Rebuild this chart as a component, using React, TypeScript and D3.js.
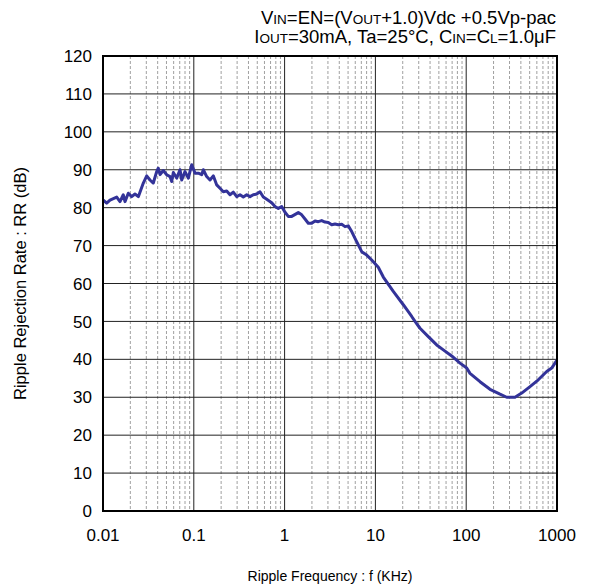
import React from "react";
import * as d3 from "d3";

const freqKHz = [
  0.01008, 0.01098, 0.01194, 0.01416, 0.01539, 0.01673, 0.01747, 0.01899, 0.0207, 0.0225,
  0.0245, 0.0278, 0.0303, 0.0329, 0.0358, 0.039, 0.0406, 0.0425, 0.0461, 0.0503,
  0.0547, 0.0571, 0.0595, 0.0648, 0.0705, 0.0736, 0.08, 0.087, 0.0948, 0.1031,
  0.1121, 0.1222, 0.1273, 0.1387, 0.1508, 0.164, 0.1788, 0.1944, 0.2113, 0.2303,
  0.2504, 0.2723, 0.2969, 0.3228, 0.351, 0.3824, 0.4158, 0.4521, 0.4928, 0.5359,
  0.5827, 0.6353, 0.721, 0.7842, 0.8524, 0.9293, 1.01, 1.098, 1.197, 1.415,
  1.543, 1.678, 1.824, 1.989, 2.162, 2.35, 2.562, 2.785, 3.029, 3.301,
  3.591, 3.904, 4.256, 4.627, 5.029, 5.483, 5.962, 6.482, 7.066, 8.021,
  9.105, 10.76, 12.22, 15.74, 20.29, 25.11, 27.3, 30.99, 38.24, 47.33,
  55.96, 69.24, 85.45, 101.3, 110.1, 141.9, 182.9, 235.6, 279.3, 344.7,
  408.6, 504.3, 622.3, 770.1, 874.2, 1000,
];
const rrDB = [
  82, 81.2, 82, 82.8, 81.6, 83.4, 81.6, 83.8, 82.9, 83.6,
  82.9, 86.5, 88.4, 87.3, 86.5, 89.5, 90.4, 88.7, 89.8, 88.7,
  88.2, 86.9, 89.3, 87.8, 90, 87.3, 89.5, 87.8, 91.3, 89.1,
  89.1, 88.7, 90, 88.2, 87.3, 88.4, 86, 85.1, 84.2, 84.4,
  83.4, 84.1, 82.9, 83.4, 82.8, 83.4, 82.9, 83.4, 83.6, 84.2,
  82.8, 82.2, 81.3, 80.3, 79.8, 80.3, 78.8, 77.7, 77.7, 78.7,
  78.1, 77, 75.9, 75.9, 76.5, 76.3, 76.6, 76.2, 76.1, 75.5,
  75.7, 75.5, 75.6, 75, 75.2, 73.7, 71.9, 70.2, 68.4, 67.5,
  66.2, 64.3, 61.7, 57.9, 54.4, 51.3, 50, 48.2, 46, 43.8,
  42.5, 40.9, 39, 37.7, 36.3, 34.1, 32.1, 30.8, 30, 30,
  31.1, 32.8, 34.6, 36.8, 37.7, 39.8,
];
const xTicks = [0.01, 0.1, 1, 10, 100, 1000];
const xTickLabels = ["0.01", "0.1", "1", "10", "100", "1000"];
const yTicks = [0, 10, 20, 30, 40, 50, 60, 70, 80, 90, 100, 110, 120];

const W = 592, H = 587;
const L = 103, R = 557, T = 56, B = 511;
const FONT = "'Liberation Sans', Arial, sans-serif";

export default function App() {
  const x = d3.scaleLog().domain([0.01, 1000]).range([L, R]);
  const y = d3.scaleLinear().domain([0, 120]).range([B, T]);
  const minor: number[] = [];
  for (let d = 0; d < 5; d++) {
    const base = 0.01 * Math.pow(10, d);
    for (let k = 2; k <= 9; k++) minor.push(base * k);
  }
  const pts = freqKHz.map((f, i) => [f, rrDB[i]] as [number, number]);
  const line = d3.line<[number, number]>().x((d) => x(d[0])).y((d) => y(d[1]));
  return (
    <svg width={W} height={H} style={{ position: "absolute", left: 0, top: 0, background: "#fff" }}>
      <rect x={0} y={0} width={W} height={H} fill="#fff" />
      {minor.map((m, i) => (
        <line key={"m" + i} x1={x(m)} x2={x(m)} y1={T} y2={B} stroke="#888" strokeWidth={0.8} strokeDasharray="3,2" />
      ))}
      {xTicks.map((t, i) => (
        <line key={"xt" + i} x1={x(t)} x2={x(t)} y1={T} y2={B} stroke="#222" strokeWidth={1} />
      ))}
      {yTicks.map((t, i) => (
        <line key={"yt" + i} x1={L} x2={R} y1={y(t)} y2={y(t)} stroke="#222" strokeWidth={1} />
      ))}
      <path d={line(pts) || ""} fill="none" stroke="#333399" strokeWidth={3} strokeLinejoin="round" />
      <rect x={L} y={T} width={R - L} height={B - T} fill="none" stroke="#000" strokeWidth={2} />
      {yTicks.map((t, i) => (
        <text key={"yl" + i} x={92} y={y(t)} dy="0.36em" textAnchor="end" fontFamily={FONT} fontSize={17} fill="#000">
          {t}
        </text>
      ))}
      {xTicks.map((t, i) => (
        <text key={"xl" + i} x={x(t)} y={541} textAnchor="middle" fontFamily={FONT} fontSize={17} fill="#000">
          {xTickLabels[i]}
        </text>
      ))}
      <text x={330} y={581} textAnchor="middle" fontFamily={FONT} fontSize={14} fill="#000">
        Ripple Frequency : f (KHz)
      </text>
      <text transform={`translate(26,${(T + B) / 2}) rotate(-90)`} textAnchor="middle" fontFamily={FONT} fontSize={16.5} fill="#000">
        Ripple Rejection Rate : RR (dB)
      </text>
      <text x={556} y={24} textAnchor="end" fontFamily={FONT} fontSize={18.5} fill="#000">
        V<tspan fontSize={13.5}>IN</tspan>=EN=(V<tspan fontSize={13.5}>OUT</tspan>+1.0)Vdc +0.5Vp-pac
      </text>
      <text x={556} y={43} textAnchor="end" fontFamily={FONT} fontSize={18.5} fill="#000">
        I<tspan fontSize={13.5}>OUT</tspan>=30mA, Ta=25°C, C<tspan fontSize={13.5}>IN</tspan>=C<tspan fontSize={13.5}>L</tspan>=1.0μF
      </text>
    </svg>
  );
}
